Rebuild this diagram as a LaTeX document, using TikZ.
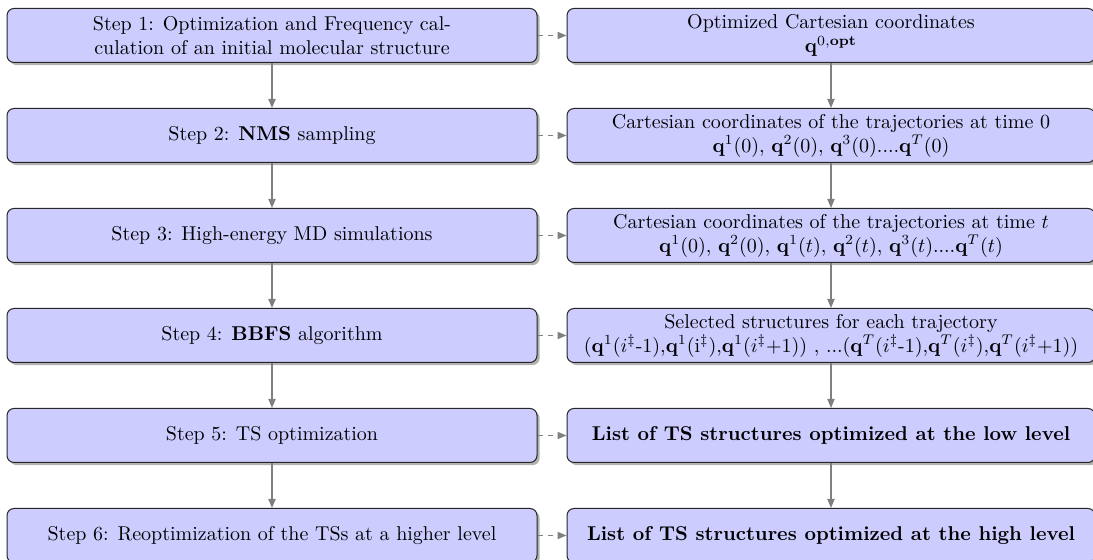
\documentclass[tikz,border=0pt]{standalone}
\usetikzlibrary{shadows,arrows.meta}

\tikzset{
  stepbox/.style={draw=black!85, line width=0.5pt, fill=blue!20, rounded corners=3.5pt,
    minimum height=27pt, inner ysep=2pt, align=center, font=\normalsize,
    drop shadow={shadow xshift=1.3pt, shadow yshift=-1.3pt, fill=black!60, opacity=0.5}},
  leftbox/.style={stepbox, minimum width=265pt},
  rightbox/.style={stepbox, minimum width=264pt},
  flow/.style={draw=gray, line width=0.6pt, -{Triangle[length=4.5pt,width=3.6pt]}},
  link/.style={flow, dash pattern=on 2.5pt off 2.5pt}
}

\begin{document}
\begin{tikzpicture}
\useasboundingbox (0,0) rectangle (546.5pt,-280pt);
\clip (0,0) rectangle (546.5pt,-280pt);

% left column: the procedure steps
\node[leftbox] (s1) at (136pt,-17.75pt)  {Step 1: Optimization and Frequency cal-\\culation of an initial molecular structure};
\node[leftbox] (s2) at (136pt,-67.75pt)  {Step 2: \textbf{NMS} sampling};
\node[leftbox] (s3) at (136pt,-117.75pt) {Step 3: High-energy MD simulations};
\node[leftbox] (s4) at (136pt,-167.75pt) {Step 4: \textbf{BBFS} algorithm};
\node[leftbox] (s5) at (136pt,-217.75pt) {Step 5: TS optimization};
\node[leftbox] (s6) at (136pt,-267.75pt) {Step 6: Reoptimization of the TSs at a higher level};

% right column: what each step produces
\node[rightbox] (r1) at (415.5pt,-17.75pt)  {Optimized Cartesian coordinates\\$\mathbf{q}^{0,\mathbf{opt}}$};
\node[rightbox] (r2) at (415.5pt,-67.75pt)  {Cartesian coordinates of the trajectories at time 0\\
  $\mathbf{q}^1(0)$, $\mathbf{q}^2(0)$, $\mathbf{q}^3(0)$....$\mathbf{q}^T(0)$};
\node[rightbox] (r3) at (415.5pt,-117.75pt) {Cartesian coordinates of the trajectories at time $t$\\
  $\mathbf{q}^1(0)$, $\mathbf{q}^2(0)$, $\mathbf{q}^1(t)$, $\mathbf{q}^2(t)$, $\mathbf{q}^3(t)$....$\mathbf{q}^T(t)$};
\node[rightbox] (r4) at (415.5pt,-167.75pt) {Selected structures for each trajectory\\
  ($\mathbf{q}^1(i^\ddagger$-1),$\mathbf{q}^1$(i$^\ddagger$),$\mathbf{q}^1(i^\ddagger$+1)) , ...($\mathbf{q}^T(i^\ddagger$-1),$\mathbf{q}^T(i^\ddagger)$,$\mathbf{q}^T(i^\ddagger$+1))};
\node[rightbox] (r5) at (415.5pt,-217.75pt) {\textbf{List of TS structures optimized at the low level}};
\node[rightbox] (r6) at (415.5pt,-267.75pt) {\textbf{List of TS structures optimized at the high level}};

% sequence of steps
\foreach \a/\b in {s1/s2,s2/s3,s3/s4,s4/s5,s5/s6,r1/r2,r2/r3,r3/r4,r4/r5,r5/r6}
  \draw[flow] (\a.south) -- (\b.north);

% each step yields its result
\foreach \i in {1,...,6}
  \draw[link] (s\i.east) -- (r\i.west);
\end{tikzpicture}
\end{document}
